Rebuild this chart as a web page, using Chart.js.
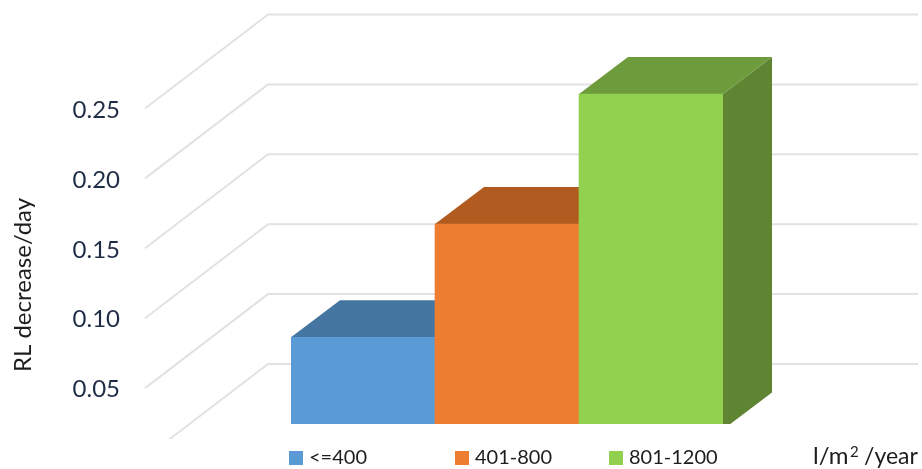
<!DOCTYPE html>
<html>
<head>
<meta charset="utf-8">
<title>RL decrease per day</title>
<script src="https://cdn.jsdelivr.net/npm/chart.js@4/dist/chart.umd.min.js"></script>
<style>
  html, body { margin: 0; background: #fff; }
  canvas { display: block; }
</style>
</head>
<body>
<canvas id="chart" width="922" height="469"></canvas>
<script>
const categories = ['<=400', '401-800', '801-1200'];
const rlDecrease = [0.066, 0.147, 0.24];
const gridValues = [0, 0.05, 0.10, 0.15, 0.20, 0.25];
const tickValues = [0.05, 0.10, 0.15, 0.20, 0.25];
const tickLabels = ['0.05', '0.10', '0.15', '0.20', '0.25'];
const yAxisTitle = 'RL decrease/day';

const frontColors = ['#5B9BD5', '#ED7D31', '#92D14F'];
const topColors = ['#4575A1', '#B25B20', '#6E9B3C'];
const sideColors = ['#3E6A91', '#A05219', '#5F8432'];

const FONT = 'Lato, sans-serif';
const TEXT = '#1d1d1d';

// fake depth of the bars and of the floor, in px
const BAR_DEPTH = { x: 49, y: -37 };
const WALL_FRONT = { x: 145, dy: 28.5 };
const WALL_BACK = { x: 268, dy: -65.5 };
const WALL_RIGHT = 918;

// the left axis sits on the front edge of the floor, so it has its own slope
const PLOT_TOP = 10.1;
const PLOT_BOTTOM = 429.5;
const AXIS_ZERO = 458.6;
const AXIS_PX_PER_UNIT = 1392;

const legendBoxes = [289, 455, 609];

const fill = (ctx, color, pts) => {
  ctx.fillStyle = color;
  ctx.beginPath();
  pts.forEach((p, i) => (i ? ctx.lineTo(p[0], p[1]) : ctx.moveTo(p[0], p[1])));
  ctx.closePath();
  ctx.fill();
};

const box3d = {
  id: 'box3d',
  beforeDatasetsDraw(chart) {
    const { ctx, scales } = chart;
    ctx.save();

    // wall and floor lines
    ctx.strokeStyle = '#e2e2e2';
    ctx.lineWidth = 2;
    ctx.lineJoin = 'round';
    gridValues.forEach((v) => {
      const y = scales.y.getPixelForValue(v);
      ctx.beginPath();
      ctx.moveTo(WALL_FRONT.x, y + WALL_FRONT.dy);
      ctx.lineTo(WALL_BACK.x, y + WALL_BACK.dy);
      ctx.lineTo(WALL_RIGHT, y + WALL_BACK.dy);
      ctx.stroke();
    });

    // top and side faces go under the front faces
    chart.getDatasetMeta(0).data.forEach((bar, i) => {
      const half = bar.width / 2;
      const l = bar.x - half;
      const r = bar.x + half;
      const dx = BAR_DEPTH.x;
      const dy = BAR_DEPTH.y;
      fill(ctx, sideColors[i], [[r, bar.y], [r + dx, bar.y + dy], [r + dx, bar.base + dy], [r, bar.base]]);
      fill(ctx, topColors[i], [[l, bar.y], [l + dx, bar.y + dy], [r + dx, bar.y + dy], [r, bar.y]]);
    });
    ctx.restore();
  },
  afterDraw(chart) {
    const { ctx } = chart;
    ctx.save();

    // white band behind the legend hides the foot of the plot
    ctx.fillStyle = '#fff';
    ctx.fillRect(0, 439, chart.width, 30);
    ctx.fillRect(285, 424, chart.width - 285, 15);

    // legend
    ctx.textBaseline = 'alphabetic';
    ctx.textAlign = 'left';
    ctx.font = '20px ' + FONT;
    categories.forEach((c, i) => {
      ctx.fillStyle = frontColors[i];
      ctx.fillRect(legendBoxes[i], 451, 14, 14);
      ctx.fillStyle = TEXT;
      ctx.fillText(c, legendBoxes[i] + 20, 464);
    });

    // unit, the exponent is set by hand so it can be larger than the font's own
    ctx.font = '24px ' + FONT;
    ctx.fillText('l/m', 813, 464);
    ctx.font = '23px ' + FONT;
    ctx.fillText('/year', 864, 464);
    ctx.font = '15px ' + FONT;
    ctx.fillText('2', 850, 457);

    // axis title
    ctx.translate(31, 285);
    ctx.rotate(-Math.PI / 2);
    ctx.textAlign = 'center';
    ctx.font = '24px ' + FONT;
    ctx.fillText(yAxisTitle, 0, 0);
    ctx.restore();
  }
};

new Chart(document.getElementById('chart'), {
  type: 'bar',
  data: {
    labels: categories,
    datasets: [{
      data: rlDecrease,
      backgroundColor: frontColors,
      borderWidth: 0,
      barPercentage: 1,
      categoryPercentage: 1
    }]
  },
  plugins: [box3d],
  options: {
    responsive: false,
    animation: false,
    layout: { padding: { top: PLOT_TOP, bottom: 469 - PLOT_BOTTOM, left: 0, right: 199 } },
    plugins: { legend: { display: false }, tooltip: { enabled: false } },
    scales: {
      x: { display: false },
      y: { display: false, min: 0, max: 0.30 },
      wall: {
        position: 'left',
        min: (AXIS_ZERO - PLOT_BOTTOM) / AXIS_PX_PER_UNIT,
        max: (AXIS_ZERO - PLOT_TOP) / AXIS_PX_PER_UNIT,
        grid: { display: false, drawTicks: false },
        border: { display: false },
        afterBuildTicks: (scale) => { scale.ticks = tickValues.map((value) => ({ value })); },
        afterFit: (scale) => {
          // tick padding would otherwise also be reserved above and below the axis
          scale.width = 291;
          scale.paddingTop = 0;
          scale.paddingBottom = 0;
        },
        ticks: {
          padding: 171,
          autoSkip: false,
          color: '#1f2c45',
          font: { family: FONT, size: 24 },
          callback: (value, i) => tickLabels[i]
        }
      }
    }
  }
});
</script>
</body>
</html>
